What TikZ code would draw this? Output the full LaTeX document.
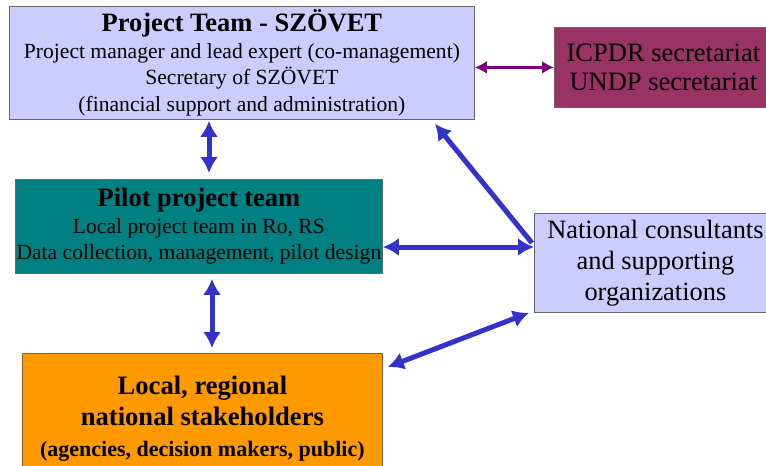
\documentclass[tikz,border=0pt]{standalone}
\usepackage{fontspec}
\setmainfont{Liberation Serif}
\usepackage{tikz}
\usetikzlibrary{calc}
\usetikzlibrary{arrows.meta}
\definecolor{lavender}{HTML}{CCCCFF}
\definecolor{plum}{HTML}{993366}
\definecolor{tealbox}{HTML}{008080}
\definecolor{orangebox}{HTML}{FF9900}
\definecolor{linkblue}{HTML}{3333CC}
\definecolor{linkpurple}{HTML}{800080}
\tikzstyle{box}=[draw=black!60, line width=0.8pt, anchor=north west, align=center, inner sep=0pt, font=\rmfamily\fontsize{21.6}{26.5}\selectfont]
\tikzstyle{link}=[<->, line width=5pt, linkblue]

\begin{document}
\begin{tikzpicture}[>={Latex[length=16pt,width=18pt]}, x=1pt, y=-1pt]
            \useasboundingbox (0,0) rectangle (766,466);

            \node[box, fill=lavender, minimum width=465pt, minimum height=113pt] (team) at (9,6)
                {{\fontsize{26.5}{29}\selectfont\bfseries Project Team - SZÖVET}\\
                 Project manager and lead expert (co-management)\\
                 Secretary of SZÖVET\\
                 (financial support and administration)};
            \node[box, fill=plum, minimum width=218pt, minimum height=80pt, font=\rmfamily\fontsize{26.5}{29}\selectfont] (icpdr) at (554,27)
                {ICPDR secretariat\\UNDP secretariat};
            \node[box, fill=tealbox, minimum width=367pt, minimum height=94pt] (pilot) at (15,179)
                {{\fontsize{26.5}{29}\selectfont\bfseries Pilot project team}\\
                 Local project team in Ro, RS\\
                 Data collection, management, pilot design};
            \node[box, fill=lavender, minimum width=242pt, minimum height=99pt, font=\rmfamily\fontsize{26.4}{31}\selectfont] (nat) at (534,213)
                {National consultants\\and supporting\\organizations};
            \node[box, fill=orangebox, minimum width=360pt, minimum height=130pt, font=\rmfamily\fontsize{26.6}{31}\selectfont\bfseries] (local) at (22,353)
                {Local, regional\\national stakeholders\\{\fontsize{22}{27}\selectfont (agencies, decision makers, public)}};

            \coordinate (v1) at (209,0);
            \coordinate (v2) at (212,0);
            \coordinate (h1) at (0,247);

            \draw [{Latex[length=12pt,width=13pt]}-{Latex[length=12pt,width=13pt]}, line width=3pt, linkpurple] (icpdr.west -| team.east) -- (icpdr.west);
            \draw [link, shorten <=1pt, shorten >=6pt] (team.south -| v1) -- (pilot.north -| v1);
            \draw [link, shorten <=5pt, shorten >=5pt] (pilot.south -| v2) -- (local.north -| v2);
            \draw [link] (pilot.east |- h1) -- (nat.west |- h1);
            \draw [link, <-] ($(team.south west)+(426,4)$) -- ($(nat.west |- h1)+(-2,-4)$);
            \draw [link] ($(nat.south west)+(-5,0)$) -- ($(local.north east)+(5,14)$);
\end{tikzpicture}
\end{document}
